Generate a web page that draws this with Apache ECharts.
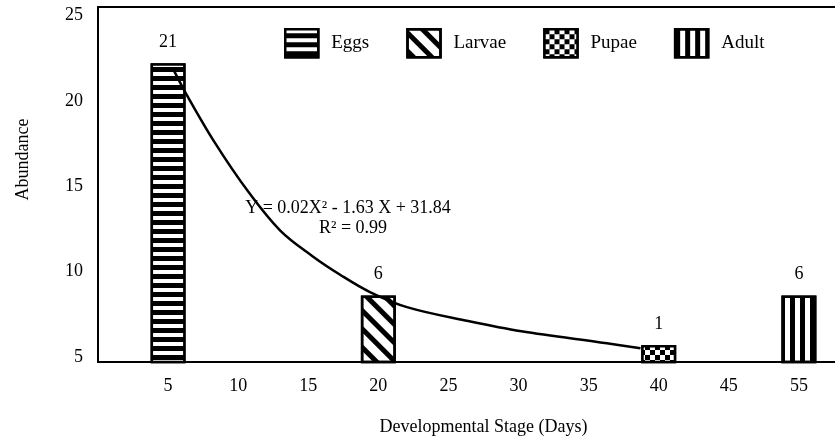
<!DOCTYPE html>
<html>
<head>
<meta charset="utf-8">
<title>Abundance by developmental stage</title>
<script src="https://cdn.jsdelivr.net/npm/echarts@6/dist/echarts.min.js"></script>
<style>
  html, body { margin: 0; padding: 0; background: #fff; overflow: hidden; }
  #chart { width: 835px; height: 440px; }
</style>
</head>
<body>
<div id="chart"></div>
<script>
// axis slots: the last gap (45 -> 55) is drawn as one step, like the original
const dayLabels = ["", "5", "10", "15", "20", "25", "30", "35", "40", "45", "55", ""]
const stages = ["Eggs", "Larvae", "Pupae", "Adult"]
const stageDay = ["5", "20", "40", "55"]
const barHeights = [22.2, 8.6, 5.7, 8.6]
const counts = [21, 6, 1, 6]
const yTicks = [5, 10, 15, 20, 25]

// fitted curve (days, abundance)
const fitDays = [5.4, 6.3, 8.3, 10.7, 13.0, 15.3, 17.3, 19.4, 22.1, 26.4, 30.2, 36.3, 38.7]
const fitValues = [21.8, 20.4, 17.6, 14.7, 12.4, 10.9, 9.8, 8.8, 7.9, 7.1, 6.5, 5.8, 5.5]

const serif = '"Liberation Serif", "Times New Roman", serif'

const fills = {
  Eggs: {
    color: "#000",
    decal: { symbol: "rect", symbolSize: 1, color: "#fff", dashArrayX: [1, 0], dashArrayY: [4, 5] },
  },
  Larvae: {
    color: "#fff",
    decal: { symbol: "rect", symbolSize: 1, color: "#000", dashArrayX: [1, 0], dashArrayY: [5, 8], rotation: Math.PI / 4 },
  },
  Pupae: {
    color: "#000",
    decal: { symbol: "rect", symbolSize: 1, color: "#fff", dashArrayX: [[5, 5], [0, 5, 5, 0]], dashArrayY: [5, 0] },
  },
  Adult: {
    color: "#fff",
    decal: { symbol: "rect", symbolSize: 1, color: "#000", dashArrayX: [5, 5], dashArrayY: [1, 0] },
  },
}

const chart = echarts.init(document.getElementById("chart"))

const barSeries = stages.map((name, i) => ({
  name,
  type: "bar",
  xAxisIndex: 0,
  barWidth: 35,
  barGap: "-100%",
  data: dayLabels.map((d) => (d === stageDay[i] ? barHeights[i] : "-")),
  itemStyle: {
    color: fills[name].color,
    decal: fills[name].decal,
    borderColor: "#000",
    borderWidth: 2.5,
  },
  label: {
    show: true,
    position: "top",
    distance: 12,
    formatter: () => String(counts[i]),
    color: "#000",
    fontSize: 18,
    fontFamily: serif,
  },
  emphasis: { disabled: true },
}))

const option = {
  animation: false,
  backgroundColor: "#fff",
  grid: { left: 98, right: -34, top: 7, bottom: 78, containLabel: false, outerBoundsMode: "none" },
  legend: {
    data: stages,
    left: 284,
    top: 28,
    padding: 0,
    icon: "rect",
    itemWidth: 33,
    itemHeight: 28,
    itemGap: 37,
    itemStyle: { borderColor: "#000", borderWidth: 2.5 },
    textStyle: { color: "#000", fontSize: 19, fontFamily: serif, padding: [0, 0, 0, 8] },
    selectedMode: false,
  },
  xAxis: [
    {
      type: "category",
      data: dayLabels,
      boundaryGap: false,
      axisLine: { lineStyle: { color: "#000", width: 2 } },
      axisTick: { show: false },
      axisLabel: { interval: 0, color: "#000", fontSize: 18, fontFamily: serif, margin: 15 },
      splitLine: { show: false },
      name: "Developmental Stage (Days)",
      nameLocation: "middle",
      nameGap: 56,
      nameTextStyle: { color: "#000", fontSize: 18, fontFamily: serif },
    },
    {
      type: "value",
      position: "top",
      min: 0,
      max: 55,
      axisLine: { show: true, lineStyle: { color: "#000", width: 2 } },
      axisTick: { show: false },
      axisLabel: { show: false },
      splitLine: { show: false },
    },
  ],
  yAxis: {
    type: "value",
    min: 4.7,
    max: 25.5,
    axisLine: { show: true, lineStyle: { color: "#000", width: 2 } },
    axisTick: { show: false },
    splitLine: { show: false },
    axisLabel: { customValues: yTicks, color: "#000", fontSize: 18, fontFamily: serif, margin: 15 },
    name: "Abundance",
    nameLocation: "middle",
    nameGap: 66,
    nameTextStyle: { color: "#000", fontSize: 18, fontFamily: serif, padding: [0, 0, 0, 50] },
  },
  series: [
    ...barSeries,
    {
      name: "fit",
      type: "line",
      xAxisIndex: 1,
      smooth: 0.35,
      symbol: "none",
      data: fitDays.map((d, i) => [d, fitValues[i]]),
      lineStyle: { color: "#000", width: 2.5 },
      z: 5,
      emphasis: { disabled: true },
    },
  ],
  graphic: [
    {
      type: "text",
      x: 348,
      y: 208,
      z: 10,
      style: { text: "Y = 0.02X² - 1.63 X + 31.84", fill: "#000", font: "18px " + serif, align: "center", verticalAlign: "middle" },
    },
    {
      type: "text",
      x: 353,
      y: 228,
      z: 10,
      style: { text: "R² = 0.99", fill: "#000", font: "18px " + serif, align: "center", verticalAlign: "middle" },
    },
  ],
}

chart.setOption(option)
</script>
</body>
</html>
